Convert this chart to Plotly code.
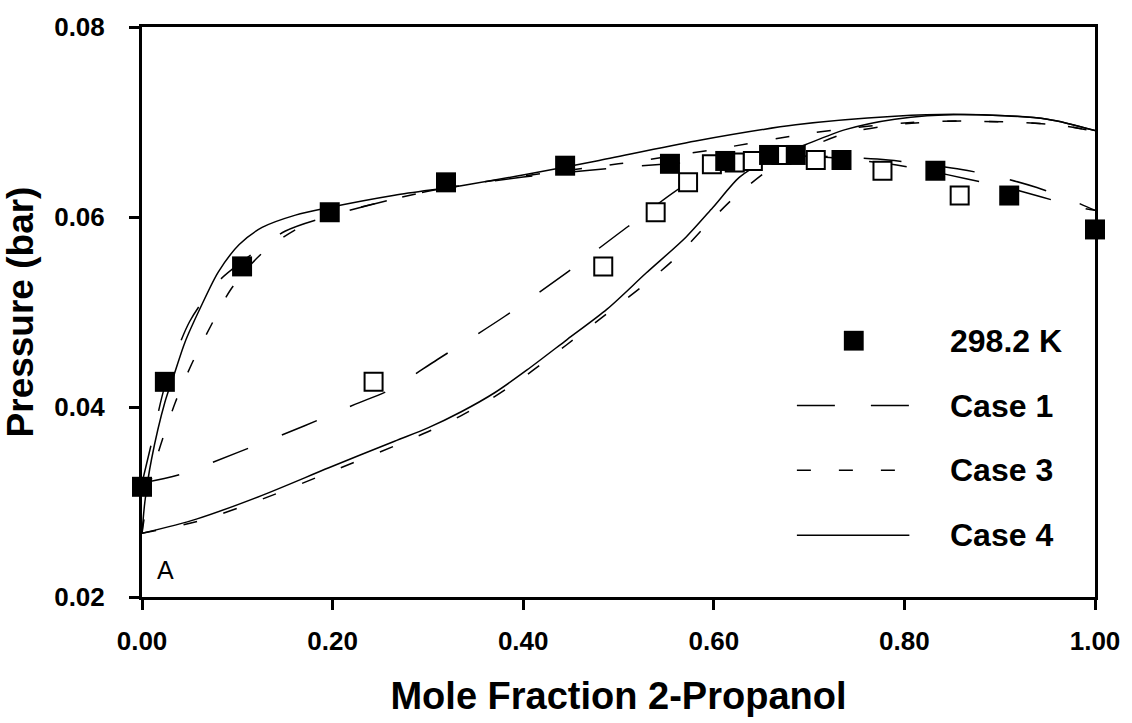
import plotly.graph_objects as go

# ---- experimental data (298.2 K) ----
liq_x = [0.0, 0.024, 0.105, 0.197, 0.319, 0.444, 0.554, 0.612, 0.658, 0.686, 0.734, 0.8325, 0.910, 1.0]
liq_p = [0.0316, 0.04265, 0.0548, 0.0605, 0.06365, 0.0654, 0.0656, 0.0659, 0.06653, 0.06653, 0.0660, 0.06487, 0.06226, 0.05869]
vap_x = [0.243, 0.484, 0.539, 0.573, 0.598, 0.622, 0.641, 0.671, 0.707, 0.777, 0.858]
vap_p = [0.04265, 0.0548, 0.0605, 0.06365, 0.06556, 0.06573, 0.0659, 0.06653, 0.0660, 0.06487, 0.06226]

# ---- Case 1 (long dash) ----
c1_up_x = [0.0, 0.01, 0.024, 0.05, 0.08, 0.105, 0.15, 0.2, 0.3, 0.4, 0.5, 0.6, 0.7, 0.783, 0.824, 0.86, 0.9, 0.939, 0.977, 1.0]
c1_up_p = [0.0320, 0.0362, 0.0422, 0.0490, 0.0532, 0.0553, 0.0585, 0.0602, 0.0627, 0.0642, 0.0652, 0.0659, 0.0664, 0.0660, 0.0655, 0.0650, 0.0642, 0.0631, 0.0617, 0.0607]
c1_lo_x = [0.0, 0.04, 0.1, 0.17, 0.224, 0.26, 0.31, 0.38, 0.445, 0.51, 0.575, 0.62, 0.66, 0.7, 0.783, 0.824, 0.866, 0.904, 0.944, 0.984, 1.0]
c1_lo_p = [0.0320, 0.0329, 0.0352, 0.0380, 0.0403, 0.0418, 0.0450, 0.0495, 0.0541, 0.0590, 0.0637, 0.0655, 0.0662, 0.0664, 0.0656, 0.0649, 0.0640, 0.0632, 0.0621, 0.0610, 0.0607]

# ---- Case 3 (short dash) ----
c3_up_x = [0.0, 0.005, 0.015, 0.035, 0.052, 0.072, 0.094, 0.124, 0.16, 0.2, 0.3, 0.4, 0.5, 0.6, 0.7, 0.8, 0.86, 0.96, 1.0]
c3_up_p = [0.0267, 0.0300, 0.0345, 0.0405, 0.0445, 0.0485, 0.0525, 0.0560, 0.0586, 0.0602, 0.0627, 0.0643, 0.0656, 0.0671, 0.0688, 0.0699, 0.0701, 0.0697, 0.0690]
c3_lo_x = [0.0, 0.06, 0.126, 0.196, 0.265, 0.3, 0.335, 0.37, 0.404, 0.445, 0.49, 0.525, 0.56, 0.591, 0.622, 0.661, 0.7, 0.738, 0.8, 0.86, 0.96, 1.0]
c3_lo_p = [0.0267, 0.0280, 0.0303, 0.0331, 0.0359, 0.0374, 0.0391, 0.0411, 0.0434, 0.0465, 0.0500, 0.0527, 0.0557, 0.0590, 0.0621, 0.0652, 0.0673, 0.0688, 0.0698, 0.0701, 0.0697, 0.0690]

# ---- Case 4 (solid) ----
c4_up_x = [0.0, 0.003, 0.01, 0.024, 0.034, 0.045, 0.062, 0.08, 0.102, 0.126, 0.161, 0.196, 0.265, 0.335, 0.404, 0.477, 0.581, 0.686, 0.79, 0.859, 0.95, 1.0]
c4_up_p = [0.0267, 0.0300, 0.0345, 0.0405, 0.0435, 0.0468, 0.0506, 0.0542, 0.0571, 0.0589, 0.0602, 0.0610, 0.0623, 0.0633, 0.0645, 0.0659, 0.0680, 0.0697, 0.0706, 0.0708, 0.0703, 0.0691]
c4_lo_x = [0.0, 0.057, 0.126, 0.196, 0.265, 0.3, 0.335, 0.37, 0.404, 0.446, 0.488, 0.529, 0.571, 0.599, 0.627, 0.651, 0.696, 0.738, 0.79, 0.859, 0.95, 1.0]
c4_lo_p = [0.0267, 0.0282, 0.0307, 0.0336, 0.0364, 0.0378, 0.0395, 0.0415, 0.0439, 0.0471, 0.0503, 0.0541, 0.0579, 0.0610, 0.0642, 0.0657, 0.0676, 0.0692, 0.0703, 0.0708, 0.0703, 0.0691]

x_ticks = [0.0, 0.2, 0.4, 0.6, 0.8, 1.0]
y_ticks = [0.02, 0.04, 0.06, 0.08]

FONT = "Arial, Liberation Sans, sans-serif"
LONG = "38px,36px"
SHORT = "14px,28px"

fig = go.Figure()

def curve(x, y, dash):
    fig.add_trace(go.Scatter(x=x, y=y, mode="lines", showlegend=False,
                             line=dict(color="black", width=1.5, dash=dash, shape="spline", smoothing=0.8),
                             hoverinfo="skip"))

curve(c1_up_x, c1_up_p, LONG)
curve(c1_lo_x, c1_lo_p, LONG)
curve(c3_up_x, c3_up_p, SHORT)
curve(c3_lo_x, c3_lo_p, SHORT)
curve(c4_up_x, c4_up_p, "solid")
curve(c4_lo_x, c4_lo_p, "solid")

fig.add_trace(go.Scatter(x=vap_x, y=vap_p, mode="markers", showlegend=False, cliponaxis=False,
                         marker=dict(symbol="square", size=18, color="white",
                                     line=dict(color="black", width=2))))
fig.add_trace(go.Scatter(x=liq_x, y=liq_p, mode="markers", showlegend=False, cliponaxis=False,
                         marker=dict(symbol="square", size=20, color="black",
                                     line=dict(color="black", width=0))))

# plot area geometry in pixels
L, R, T, B = 142, 1102, 24.7, 600.7
def px(xp):
    return (xp - L) / (R - L)
def py(yp):
    return (B - yp) / (B - T)

shapes = []
shapes.append(dict(type="rect", xref="paper", yref="paper",
                   x0=px(849), x1=px(869), y0=py(351.7), y1=py(331.7),
                   fillcolor="black", line=dict(width=0)))
for yy, d in [(407.3, LONG), (472.7, SHORT), (538.3, "solid")]:
    shapes.append(dict(type="line", xref="paper", yref="paper",
                       x0=px(801.7), x1=px(915), y0=py(yy), y1=py(yy),
                       line=dict(color="black", width=1.5, dash=d)))

annotations = []
for yy, t in [(342, "298.2 K"), (407.3, "Case 1"), (472.7, "Case 3"), (538.3, "Case 4")]:
    annotations.append(dict(xref="paper", yref="paper", x=px(954), y=py(yy), text=t,
                            showarrow=False, xanchor="left", yanchor="middle",
                            font=dict(family=FONT, size=32, color="black", weight="bold")))
annotations.append(dict(xref="paper", yref="paper", x=px(155), y=py(573), text="A",
                        showarrow=False, xanchor="left", yanchor="middle",
                        font=dict(family=FONT, size=25, color="black")))

tickfont = dict(family=FONT, size=26, color="black", weight="bold")
fig.update_layout(
    width=1132, height=723,
    margin=dict(l=142, r=30, t=25, b=122),
    paper_bgcolor="white", plot_bgcolor="white",
    shapes=shapes, annotations=annotations,
    xaxis=dict(range=[0, 1], tickvals=x_ticks, tickformat=".2f",
               showgrid=False, zeroline=False, showline=True, linecolor="black", linewidth=3,
               mirror=True, ticks="outside", ticklen=10, tickwidth=3, tickcolor="black",
               ticklabelstandoff=9, tickfont=tickfont,
               title=dict(text="Mole Fraction 2-Propanol", standoff=28,
                          font=dict(family=FONT, size=38, color="black", weight="bold"))),
    yaxis=dict(range=[0.02, 0.08], tickvals=y_ticks, tickformat=".2f",
               showgrid=False, zeroline=False, showline=True, linecolor="black", linewidth=3,
               mirror=True, ticks="outside", ticklen=10, tickwidth=3, tickcolor="black",
               ticklabelstandoff=19, tickfont=tickfont,
               title=dict(text="Pressure (bar)", standoff=10,
                          font=dict(family=FONT, size=37, color="black", weight="bold"))),
)

fig.write_html("out.html")
